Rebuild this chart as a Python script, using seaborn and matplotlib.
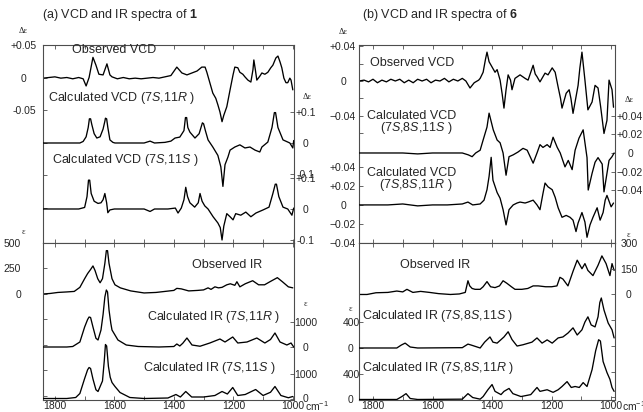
import matplotlib
matplotlib.use("Agg")
import matplotlib.pyplot as plt
import seaborn as sns

# ---------------- (a) compound 1 ----------------
a_vcd_obs_wn = [1840, 1820, 1800, 1780, 1760, 1740, 1720, 1705, 1695, 1685,
                1672, 1662, 1652, 1638, 1625, 1615, 1608, 1590, 1570, 1550,
                1530, 1510, 1490, 1470, 1450, 1430, 1410, 1390, 1373, 1356,
                1339, 1322, 1306, 1295, 1289, 1279, 1269, 1259, 1252, 1245,
                1238, 1232, 1222, 1211, 1201, 1195, 1185, 1178, 1168, 1161,
                1151, 1141, 1134, 1131, 1126, 1121, 1111, 1104, 1094, 1084,
                1074, 1067, 1057, 1050, 1043, 1037, 1030, 1023, 1017, 1010,
                1006, 1000]
a_vcd_obs = [-0.001, 0.0, 0.001, -0.001, 0.0, -0.002, 0.0, -0.002, -0.013, 0.0,
             0.031, 0.019, 0.005, 0.004, 0.021, 0.004, 0.001, -0.002, 0.0, -0.002,
             -0.001, -0.002, -0.001, 0.0, -0.001, 0.001, 0.003, 0.016, 0.007, 0.004,
             0.007, 0.010, 0.016, 0.016, 0.008, -0.008, -0.024, -0.032, -0.042, -0.053,
             -0.068, -0.058, -0.045, -0.019, 0.004, 0.016, 0.015, 0.008, 0.005, 0.001,
             -0.004, -0.007, 0.012, 0.027, 0.012, -0.004, 0.002, 0.007, 0.005, 0.008,
             0.015, 0.019, 0.030, 0.033, 0.024, 0.015, -0.001, -0.008, -0.008, -0.001,
             -0.004, -0.019]

a_vcd_11r_wn = [1840, 1760, 1716, 1705, 1695, 1688, 1684, 1680, 1676, 1668,
                1659, 1648, 1638, 1632, 1630, 1626, 1622, 1615, 1605, 1598,
                1560, 1500, 1480, 1465, 1430, 1410, 1396, 1380, 1366, 1361,
                1357, 1353, 1346, 1329, 1315, 1304, 1300, 1294, 1285, 1269,
                1252, 1242, 1235, 1228, 1218, 1211, 1195, 1178, 1161, 1144,
                1127, 1111, 1104, 1084, 1070, 1062, 1058, 1050, 1033, 1010,
                1000, 997]
a_vcd_11r = [0, 0, 0, 0.005, 0.02, 0.05, 0.078, 0.078, 0.06, 0.03,
             0.016, 0.02, 0.045, 0.07, 0.08, 0.078, 0.05, 0.01, 0.002, 0,
             0, 0, 0.006, 0, 0.002, 0.006, 0.016, 0.019, 0.04, 0.082,
             0.082, 0.05, 0.035, 0.016, 0.03, 0.065, 0.062, 0.04, 0.01, -0.013,
             -0.04, -0.077, -0.14, -0.07, -0.045, -0.023, -0.013, -0.006, -0.016, -0.013,
             -0.023, -0.029, -0.013, 0.003, 0.05, 0.098, 0.098, 0.05, 0.01, 0,
             -0.016, 0.008]

a_vcd_11s_wn = [1840, 1720, 1700, 1692, 1687, 1683, 1678, 1668, 1655, 1645,
                1638, 1632, 1626, 1622, 1615, 1600, 1500, 1480, 1465, 1420,
                1395, 1386, 1375, 1366, 1360, 1354, 1346, 1330, 1318, 1312,
                1305, 1296, 1285, 1268, 1252, 1244, 1238, 1232, 1222, 1211,
                1201, 1192, 1175, 1158, 1141, 1124, 1100, 1080, 1067, 1059,
                1055, 1047, 1033, 1017, 1003, 997]
a_vcd_11s = [0, 0, 0.005, 0.04, 0.093, 0.093, 0.05, 0.025, 0.018, 0.02,
             0.03, 0.05, 0.02, -0.012, -0.003, 0, 0, -0.008, 0, 0,
             0.003, -0.013, 0.003, 0.03, 0.07, 0.04, 0.02, 0.006, 0.02, 0.05,
             0.025, 0.01, 0, -0.025, -0.045, -0.06, -0.10, -0.055, -0.015, -0.025,
             -0.035, -0.015, -0.02, -0.01, -0.025, -0.013, -0.003, 0.006, 0.05, 0.08,
             0.08, 0.04, 0.006, 0, -0.02, 0.003]

a_ir_obs_wn = [1840, 1816, 1790, 1760, 1735, 1716, 1700, 1690, 1680, 1672,
               1665, 1656, 1648, 1640, 1632, 1627, 1623, 1618, 1608, 1598,
               1580, 1545, 1500, 1460, 1430, 1400, 1390, 1375, 1350, 1320,
               1300, 1285, 1275, 1262, 1250, 1238, 1222, 1210, 1195, 1188,
               1178, 1160, 1135, 1115, 1095, 1077, 1052, 1035, 1015, 1000]
a_ir_obs = [0, 5, 15, 20, 25, 65, 150, 200, 240, 275,
            230, 150, 110, 150, 300, 425, 425, 300, 150, 90,
            60, 30, 10, 15, 25, 35, 55, 50, 30, 35,
            40, 60, 45, 70, 60, 65, 90, 100, 85, 120,
            70, 100, 130, 90, 90, 120, 160, 120, 70, 60]

a_ir_11r_wn = [1840, 1760, 1740, 1716, 1700, 1690, 1685, 1680, 1672, 1662,
               1655, 1645, 1638, 1632, 1627, 1623, 1618, 1612, 1608, 1598,
               1588, 1560, 1520, 1450, 1400, 1390, 1380, 1370, 1356, 1339,
               1312, 1279, 1245, 1228, 1202, 1185, 1154, 1121, 1094, 1075,
               1060, 1043, 1020, 1006, 997]
a_ir_11r = [0, 0, 20, 200, 800, 1100, 1200, 1180, 800, 350,
            280, 680, 1300, 2000, 2280, 2200, 1480, 950, 680, 480,
            280, 80, 20, 0, 20, 120, 40, 150, 360, 80,
            30, 160, 320, 200, 400, 160, 200, 360, 160, 300,
            560, 200, 80, 160, 0]

a_ir_11s_wn = [1840, 1760, 1730, 1716, 1700, 1690, 1685, 1680, 1672, 1662,
               1655, 1640, 1634, 1630, 1626, 1620, 1614, 1608, 1598, 1581,
               1548, 1500, 1420, 1393, 1378, 1360, 1340, 1300, 1262, 1238,
               1220, 1202, 1185, 1160, 1125, 1100, 1075, 1060, 1040, 1015,
               1000]
a_ir_11s = [0, 0, 40, 200, 800, 1150, 1240, 1200, 780, 350,
            280, 700, 1500, 2160, 2100, 1280, 850, 640, 480, 240,
            40, 0, 20, 160, 60, 280, 60, 60, 120, 280,
            180, 440, 120, 160, 360, 120, 250, 480, 120, 30,
            80]

# ---------------- (b) compound 6 ----------------
b_vcd_obs_wn = [1847, 1830, 1815, 1800, 1785, 1770, 1755, 1740, 1725, 1710,
                1695, 1680, 1665, 1650, 1635, 1620, 1605, 1590, 1575, 1560,
                1545, 1530, 1515, 1500, 1488, 1474, 1460, 1445, 1440, 1430,
                1422, 1417, 1410, 1400, 1390, 1383, 1373, 1366, 1360, 1353,
                1346, 1338, 1333, 1323, 1306, 1289, 1279, 1270, 1262, 1255,
                1249, 1239, 1222, 1212, 1198, 1188, 1178, 1170, 1165, 1151,
                1141, 1135, 1128, 1111, 1105, 1098, 1088, 1078, 1064, 1054,
                1044, 1035, 1024, 1014, 1007, 997, 992]
b_vcd_obs = [0.0, 0.001, -0.001, 0.002, -0.002, 0.001, -0.001, 0.002, 0.0, 0.002,
             -0.002, 0.001, -0.002, 0.002, 0.0, 0.002, -0.002, 0.001, 0.0, 0.003,
             -0.001, 0.002, 0.0, 0.003, 0.0, -0.008, -0.002, 0.001, 0.003, 0.010,
             0.025, 0.033, 0.022, 0.016, 0.010, 0.013, 0.001, -0.015, -0.031, -0.010,
             0.007, 0.001, -0.010, 0.003, 0.007, 0.003, 0.001, 0.010, 0.018, 0.008,
             0.005, -0.001, 0.009, 0.007, 0.015, 0.010, -0.007, -0.020, -0.031, -0.014,
             -0.010, -0.020, -0.037, -0.005, 0.015, 0.033, 0.001, -0.033, -0.024, -0.005,
             -0.008, -0.030, -0.060, -0.045, 0.001, -0.010, -0.030]

b_vcd_11s_wn = [1847, 1700, 1650, 1600, 1500, 1480, 1467, 1455, 1440, 1430,
                1417, 1410, 1396, 1383, 1373, 1363, 1353, 1343, 1329, 1313,
                1296, 1282, 1272, 1262, 1249, 1239, 1229, 1215, 1205, 1195,
                1181, 1171, 1155, 1144, 1131, 1121, 1108, 1094, 1081, 1077,
                1064, 1054, 1044, 1030, 1024, 1014, 1007, 997, 990]
b_vcd_11s = [0, 0, -0.001, 0, 0, -0.002, -0.004, 0, 0.003, 0.014,
             0.028, 0.043, 0.025, 0.014, 0.011, 0, -0.024, -0.004, -0.002, 0.001,
             0.005, 0.003, -0.004, -0.011, 0, 0.009, 0.006, 0.009, 0.006, 0.017,
             0.006, 0, -0.015, -0.008, -0.018, 0.003, 0.016, 0.025, -0.005, -0.040,
             -0.022, -0.010, -0.005, -0.012, -0.042, -0.022, -0.008, -0.004, 0]

b_vcd_11r_wn = [1847, 1750, 1700, 1650, 1600, 1550, 1500, 1481, 1465, 1440,
                1427, 1417, 1410, 1403, 1397, 1383, 1373, 1363, 1353, 1343,
                1329, 1316, 1306, 1289, 1279, 1262, 1249, 1239, 1229, 1222,
                1212, 1198, 1188, 1178, 1165, 1151, 1138, 1128, 1118, 1111,
                1098, 1088, 1081, 1071, 1061, 1047, 1037, 1027, 1020, 1014,
                1000, 992]
b_vcd_11r = [0, 0, 0.001, -0.001, 0, 0, 0.001, 0.003, 0, 0.001,
             0.005, 0.016, 0.030, 0.050, 0.026, 0.013, 0.007, -0.005, -0.021, -0.005,
             0, 0.002, 0.003, 0.002, 0.003, 0.005, 0, -0.005, 0.012, 0.023,
             0.019, 0.016, 0.008, -0.003, -0.013, -0.011, -0.013, -0.016, -0.028, -0.019,
             -0.008, -0.018, -0.034, -0.021, -0.013, -0.003, -0.016, -0.008, 0.005, 0.010,
             -0.002, 0.002]

b_ir_obs_wn = [1847, 1820, 1790, 1750, 1720, 1700, 1686, 1666, 1640, 1610,
               1580, 1540, 1510, 1490, 1481, 1475, 1467, 1457, 1440, 1430,
               1417, 1405, 1390, 1375, 1363, 1350, 1335, 1323, 1300, 1280,
               1262, 1245, 1220, 1200, 1182, 1172, 1162, 1145, 1128, 1114,
               1098, 1088, 1078, 1061, 1044, 1031, 1017, 1004, 997, 990]
b_ir_obs = [0, 0, 10, 12, 20, 15, 30, 12, 18, 12,
            5, 0, 3, 12, 80, 50, 35, 30, 30, 45,
            75, 45, 40, 50, 80, 65, 45, 30, 30, 35,
            50, 50, 45, 45, 50, 100, 90, 50, 135, 200,
            150, 180, 140, 110, 170, 225, 180, 110, 180, 140]

b_ir_11s_wn = [1847, 1720, 1705, 1692, 1675, 1650, 1500, 1481, 1470, 1450,
               1440, 1425, 1407, 1397, 1383, 1360, 1346, 1333, 1316, 1296,
               1266, 1249, 1232, 1215, 1198, 1178, 1162, 1145, 1128, 1114,
               1098, 1088, 1078, 1067, 1054, 1044, 1038, 1033, 1024, 1010,
               997, 990]
b_ir_11s = [0, 0, 45, 75, 15, 0, 5, 60, 45, 15,
            0, 90, 170, 90, 75, 170, 250, 130, 30, 50,
            90, 155, 75, 125, 75, 155, 170, 230, 310, 200,
            280, 400, 480, 355, 325, 480, 700, 770, 585, 385,
            280, 155]

b_ir_11r_wn = [1847, 1720, 1703, 1689, 1675, 1650, 1500, 1481, 1465, 1440,
               1430, 1414, 1400, 1390, 1370, 1360, 1343, 1330, 1303, 1270,
               1249, 1239, 1215, 1195, 1178, 1165, 1148, 1134, 1121, 1107,
               1094, 1081, 1064, 1052, 1042, 1036, 1027, 1014, 1004, 997,
               990]
b_ir_11r = [0, 0, 45, 90, 15, 0, 5, 90, 30, 5,
            45, 150, 230, 125, 75, 125, 170, 90, 45, 75,
            185, 125, 150, 110, 150, 200, 275, 185, 200, 185,
            260, 200, 460, 750, 920, 900, 585, 415, 310, 185,
            125]

x_ticks = [1800, 1700, 1600, 1500, 1400, 1300, 1200, 1100, 1000]
x_labels = ["1800", "", "1600", "", "1400", "", "1200", "", "1000"]

sns.set_theme(style="ticks")
plt.rcParams["font.family"] = ["Liberation Sans", "DejaVu Sans"]
plt.rcParams["mathtext.fontset"] = "custom"
plt.rcParams["mathtext.rm"] = "Liberation Sans"
plt.rcParams["mathtext.it"] = "Liberation Sans:italic"
plt.rcParams["mathtext.bf"] = "Liberation Sans:bold"

W, H = 643, 412
fig = plt.figure(figsize=(W / 100, H / 100), dpi=100)


def rect(x0, y0, x1, y1):
    return [x0 / W, 1 - y1 / H, (x1 - x0) / W, (y1 - y0) / H]


def draw(ax, wn, val):
    sns.lineplot(x=wn, y=val, ax=ax, color="black", linewidth=0.95,
                 estimator=None, sort=False, legend=False)


def style_box(ax, xlim, labels):
    ax.set_xlim(xlim)
    ax.set_xticks(x_ticks, labels)
    ax.tick_params(axis="x", direction="in", top=True, bottom=True, length=3,
                   width=0.6, color="0.3", labelsize=7.5, pad=1)
    for s in ax.spines.values():
        s.set_color("0.3")
        s.set_linewidth(0.8)


def style_y(ax, ticks, labels, side, pad, ha="center"):
    ax.yaxis.set_ticks_position(side)
    ax.set_yticks(ticks, labels, ha=ha)
    ax.tick_params(axis="y", direction="in", length=3, width=0.6, color="0.3",
                   labelsize=7.5, pad=pad)


def twin(ax):
    tw = ax.twinx()
    for s in tw.spines.values():
        s.set_visible(False)
    return tw


def txt(x, y, s, size=9, ha="left", **kw):
    fig.text(x / W, 1 - y / H, s, fontsize=size, ha=ha, va="center", **kw)


# ---- panel (a) ----
xa = (1840, 996)
ax = fig.add_axes(rect(43, 45, 294, 243))
ax.set_ylim(-0.2546, 0.05)
draw(ax, a_vcd_obs_wn, a_vcd_obs)
style_box(ax, xa, [""] * len(x_ticks))
style_y(ax, [0.05, 0, -0.05, -0.1, -0.15, -0.2], ["+0.05", "0", "-0.05", "", "", ""], "left", 13.7)
t1 = twin(ax)
t1.set_ylim(-0.3226, 0.3161)
draw(t1, a_vcd_11r_wn, a_vcd_11r)
style_y(t1, [0.1, 0, -0.1], ["+0.1", "0", "-0.1"], "right", 8.6)
t2 = twin(ax)
t2.set_ylim(-0.1097, 0.529)
draw(t2, a_vcd_11s_wn, a_vcd_11s)
style_y(t2, [0.1, 0, -0.1], ["+0.1", "0", "-0.1"], "right", 8.6)
ax.set_xlim(xa)

ax = fig.add_axes(rect(43, 243, 294, 400))
ax.set_ylim(-1040, 500)
draw(ax, a_ir_obs_wn, a_ir_obs)
style_box(ax, xa, x_labels)
style_y(ax, [500, 250, 0, -250, -500, -750, -1000], ["500", "250", "0", "", "", "", ""], "left", 15.8, ha="right")
t1 = twin(ax)
t1.set_ylim(-2120, 4160)
draw(t1, a_ir_11r_wn, a_ir_11r)
style_y(t1, [1000, 0], ["1000", "0"], "right", 8.6)
t2 = twin(ax)
t2.set_ylim(-60, 6220)
draw(t2, a_ir_11s_wn, a_ir_11s)
style_y(t2, [1000, 0], ["1000", "0"], "right", 8.6)
ax.set_xlim(xa)

# ---- panel (b) ----
xb = (1847, 987)
ax = fig.add_axes(rect(359, 45, 615, 243))
ax.set_ylim(-0.1852, 0.04115)
draw(ax, b_vcd_obs_wn, b_vcd_obs)
style_box(ax, xb, [""] * len(x_ticks))
style_y(ax, [0.04, 0.02, 0, -0.02, -0.04, -0.06], ["+0.04", "", "0", "", "\u22120.04", ""], "left", 11.5)
t1 = twin(ax)
t1.set_ylim(-0.0972, 0.1166)
draw(t1, b_vcd_11s_wn, b_vcd_11s)
style_y(t1, [0.04, 0.02, 0, -0.02, -0.04],
        ["+0.04", "+0.02", "0", "\u22120.02", "\u22120.04"], "right", 10.8)
t2 = twin(ax)
t2.set_ylim(-0.0399, 0.168)
draw(t2, b_vcd_11r_wn, b_vcd_11r)
style_y(t2, [0.04, 0.02, 0, -0.02, -0.04],
        ["+0.04", "+0.02", "0", "\u22120.02", "\u22120.04"], "left", 11.5)
ax.set_xlim(xb)

ax = fig.add_axes(rect(359, 243, 615, 400))
ax.set_ylim(-615, 300)
draw(ax, b_ir_obs_wn, b_ir_obs)
style_box(ax, xb, x_labels)
ax.yaxis.set_ticks_position("none")
ax.set_yticks([])
t0 = twin(ax)
t0.set_ylim(-615, 300)
style_y(t0, [300, 150, 0, -150, -300, -450, -600], ["300", "150", "0", "", "", "", ""], "right", 10)
t1 = twin(ax)
t1.set_ylim(-801, 1617)
draw(t1, b_ir_11s_wn, b_ir_11s)
style_y(t1, [400, 0], ["400", "0"], "left", 5.8)
t2 = twin(ax)
t2.set_ylim(-8, 2410)
draw(t2, b_ir_11r_wn, b_ir_11r)
style_y(t2, [400, 0], ["400", "0"], "left", 5.8)
ax.set_xlim(xb)

# ---- texts ----
txt(42, 15, "(a) VCD and IR spectra of $\\mathbf{1}$")
txt(72, 50, "Observed VCD")
txt(48, 98, "Calculated VCD (7$S$,11$R$ )")
txt(52, 160, "Calculated VCD (7$S$,11$S$ )")
txt(192, 265, "Observed IR")
txt(147, 317, "Calculated IR (7$S$,11$R$ )")
txt(143, 368, "Calculated IR (7$S$,11$S$ )")

txt(362, 15, "(b) VCD and IR spectra of $\\mathbf{6}$")
txt(370, 63, "Observed VCD")
txt(412, 116, "Calculated VCD", ha="center")
txt(416, 128, "(7$S$,8$S$,11$S$ )", ha="center")
txt(412, 173, "Calculated VCD", ha="center")
txt(416, 185, "(7$S$,8$S$,11$R$ )", ha="center")
txt(400, 265, "Observed IR")
txt(362, 316, "Calculated IR (7$S$,8$S$,11$S$ )")
txt(362, 368, "Calculated IR (7$S$,8$S$,11$R$ )")

for x, y, s in [(23, 31, "\u0394\u03b5"), (307, 97, "\u0394\u03b5"),
                (343, 32, "\u0394\u03b5"), (629, 100, "\u0394\u03b5"),
                (23, 232, "\u03b5"), (305, 304, "\u03b5"),
                (628, 235, "\u03b5"), (350, 309, "\u03b5")]:
    txt(x, y, s, size=6, ha="center", family="Liberation Serif")

txt(305, 406, "cm$^{-1}$", size=7.5)
txt(622, 406, "cm$^{-1}$", size=7.5)

fig.savefig("out.png", dpi=100)
